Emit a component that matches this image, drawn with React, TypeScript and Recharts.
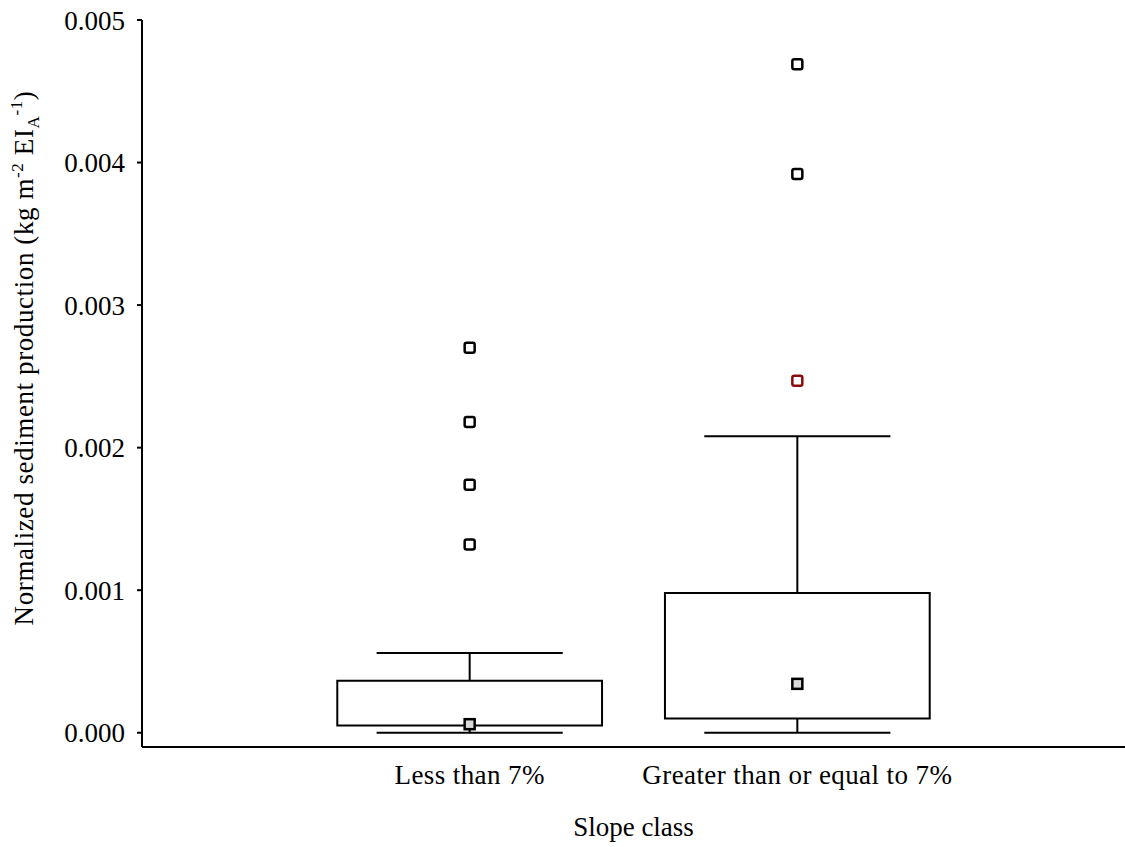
import {
  ComposedChart,
  ReferenceArea,
  ReferenceLine,
  Scatter,
  XAxis,
  YAxis,
} from 'recharts'

// slope classes sit at x = 1 and x = 2 on a 0..3 axis
const categories = ['Less than 7%', 'Greater than or equal to 7%']
const positions = [1, 2]
const q1 = [0.00005, 0.0001]
const q3 = [0.000365, 0.00098]
const whiskerLow = [0, 0]
const whiskerHigh = [0.00056, 0.00208]
const means = [0.00006, 0.000343]
const outliers = [
  [0.00132, 0.00174, 0.00218, 0.0027],
  [0.00392, 0.00469],
]
const extremeOutliers = [[], [0.00247]]
const yTicks = [0, 0.001, 0.002, 0.003, 0.004, 0.005]

const BOX_HALF = 0.404
const CAP_HALF = 0.284
const FONT = '"Liberation Serif", "Times New Roman", serif'

const meanPoints = positions.map((x, i) => ({ x, y: means[i] }))
const outlierPoints = positions.flatMap((x, i) => outliers[i].map((y) => ({ x, y })))
const extremePoints = positions.flatMap((x, i) => extremeOutliers[i].map((y) => ({ x, y })))

const OutlierMark = (props: any) => (
  <rect
    x={props.cx - 5}
    y={props.cy - 5}
    width={10}
    height={10}
    rx={2}
    fill="#fff"
    stroke={props.color || '#000'}
    strokeWidth={2.5}
  />
)

const MeanMark = (props: any) => (
  <rect
    x={props.cx - 5}
    y={props.cy - 5}
    width={10}
    height={10}
    fill="#d9d9d9"
    stroke="#000"
    strokeWidth={2.5}
  />
)

function YTitle() {
  return (
    <text
      x={33}
      y={358}
      transform="rotate(-90, 33, 358)"
      textAnchor="middle"
      fontFamily={FONT}
      fontSize={27}
      letterSpacing={0.6}
      fill="#000"
    >
      <tspan>Normalized sediment production (kg m</tspan>
      <tspan fontSize={17} dy={-10}>-2</tspan>
      <tspan dy={10}> EI</tspan>
      <tspan fontSize={17} dy={6}>A</tspan>
      <tspan fontSize={17} dy={-17}>-1</tspan>
      <tspan dy={11}>)</tspan>
    </text>
  )
}

export default function App() {
  return (
    <div style={{ position: 'absolute', left: 0, top: 0, background: '#fff' }}>
      <ComposedChart
        width={1125}
        height={847}
        margin={{ top: 20, right: 0, bottom: 0, left: 0 }}
      >
        <XAxis
          type="number"
          dataKey="x"
          domain={[0, 3]}
          ticks={positions}
          tickFormatter={(v) => categories[positions.indexOf(v)] ?? ''}
          axisLine={{ stroke: '#000', strokeWidth: 2 }}
          tickLine={false}
          tickSize={0}
          tickMargin={18}
          height={100}
          tick={{ fontSize: 27, fill: '#000', fontFamily: FONT, letterSpacing: 0.4 }}
          label={{
            value: 'Slope class',
            position: 'insideBottom',
            offset: 11,
            fontSize: 27,
            fill: '#000',
            fontFamily: FONT,
          }}
        />
        <YAxis
          type="number"
          dataKey="y"
          domain={[-0.0001, 0.005]}
          ticks={yTicks}
          tickFormatter={(v) => Number(v).toFixed(3)}
          axisLine={{ stroke: '#000', strokeWidth: 2 }}
          tickLine={{ stroke: '#000', strokeWidth: 2 }}
          tickSize={5}
          tickMargin={12}
          width={142}
          tick={{ fontSize: 27, fill: '#000', fontFamily: FONT }}
          label={<YTitle />}
        />

        {positions.map((x, i) => (
          <ReferenceArea
            key={`box-${i}`}
            x1={x - BOX_HALF}
            x2={x + BOX_HALF}
            y1={q1[i]}
            y2={q3[i]}
            fill="#fff"
            fillOpacity={1}
            stroke="#000"
            strokeWidth={2}
          />
        ))}
        {positions.map((x, i) => (
          <ReferenceLine
            key={`up-${i}`}
            segment={[{ x, y: q3[i] }, { x, y: whiskerHigh[i] }]}
            stroke="#000"
            strokeWidth={2}
          />
        ))}
        {positions.map((x, i) => (
          <ReferenceLine
            key={`lo-${i}`}
            segment={[{ x, y: whiskerLow[i] }, { x, y: q1[i] }]}
            stroke="#000"
            strokeWidth={2}
          />
        ))}
        {positions.map((x, i) => (
          <ReferenceLine
            key={`capHi-${i}`}
            segment={[{ x: x - CAP_HALF, y: whiskerHigh[i] }, { x: x + CAP_HALF, y: whiskerHigh[i] }]}
            stroke="#000"
            strokeWidth={2}
          />
        ))}
        {positions.map((x, i) => (
          <ReferenceLine
            key={`capLo-${i}`}
            segment={[{ x: x - CAP_HALF, y: whiskerLow[i] }, { x: x + CAP_HALF, y: whiskerLow[i] }]}
            stroke="#000"
            strokeWidth={2}
          />
        ))}

        <Scatter
          data={outlierPoints}
          dataKey="y"
          shape={(p: any) => <OutlierMark {...p} color="#000" />}
          isAnimationActive={false}
        />
        <Scatter
          data={extremePoints}
          dataKey="y"
          shape={(p: any) => <OutlierMark {...p} color="#8b0a0a" />}
          isAnimationActive={false}
        />
        <Scatter data={meanPoints} dataKey="y" shape={MeanMark} isAnimationActive={false} />
      </ComposedChart>
    </div>
  )
}
